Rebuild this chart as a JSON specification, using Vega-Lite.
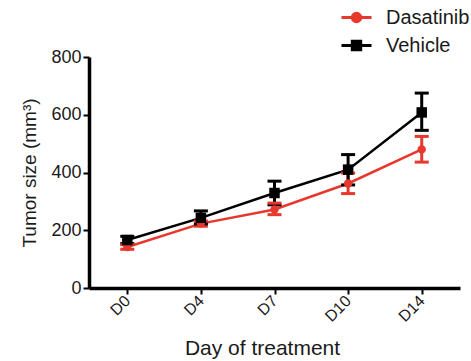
{
  "$schema": "https://vega.github.io/schema/vega-lite/v6.json",
  "autosize": "none",
  "width": 371,
  "height": 231,
  "padding": {"left": 89, "top": 57, "right": 11, "bottom": 73},
  "background": "white",
  "config": {
    "view": {"stroke": null},
    "font": "Liberation Sans",
    "axis": {
      "grid": false,
      "domainColor": "black",
      "domainWidth": 3,
      "tickColor": "black",
      "tickWidth": 2,
      "tickSize": 6,
      "labelColor": "#1a1a1a",
      "titleColor": "#1a1a1a",
      "titleFontWeight": "normal",
      "labelFont": "Liberation Sans",
      "titleFont": "Liberation Sans"
    }
  },
  "data": {
    "values": [
      {"day": "D0", "group": "Dasatinib", "mean": 142, "lo": 134, "hi": 150},
      {"day": "D4", "group": "Dasatinib", "mean": 223, "lo": 214, "hi": 232},
      {"day": "D7", "group": "Dasatinib", "mean": 272, "lo": 254, "hi": 294},
      {"day": "D10", "group": "Dasatinib", "mean": 362, "lo": 327, "hi": 398},
      {"day": "D14", "group": "Dasatinib", "mean": 480, "lo": 436, "hi": 525},
      {"day": "D0", "group": "Vehicle", "mean": 166, "lo": 154, "hi": 179},
      {"day": "D4", "group": "Vehicle", "mean": 243, "lo": 222, "hi": 267},
      {"day": "D7", "group": "Vehicle", "mean": 329, "lo": 288, "hi": 370},
      {"day": "D10", "group": "Vehicle", "mean": 410, "lo": 357, "hi": 462},
      {"day": "D14", "group": "Vehicle", "mean": 608, "lo": 546, "hi": 675}
    ]
  },
  "encoding": {
    "x": {
      "field": "day",
      "type": "ordinal",
      "sort": ["D0", "D4", "D7", "D10", "D14"],
      "scale": {"type": "point", "padding": 0.52},
      "axis": {
        "title": "Day of treatment",
        "titleFontSize": 21,
        "titlePadding": 13,
        "titleX": 173,
        "labelAngle": -45,
        "labelAlign": "right",
        "labelBaseline": "middle",
        "labelFontSize": 16,
        "labelPadding": 4,
        "domainWidth": 3.5,
        "domainColor": "black",
        "tickWidth": 2
      }
    },
    "color": {
      "field": "group",
      "type": "nominal",
      "scale": {"domain": ["Dasatinib", "Vehicle"], "range": ["#e8382e", "#000000"]},
      "legend": {
        "title": null,
        "orient": "none",
        "legendX": 254,
        "legendY": -53,
        "padding": 0,
        "symbolSize": 576,
        "symbolStrokeWidth": 3,
        "labelFontSize": 20,
        "labelColor": "#1a1a1a",
        "labelOffset": 16,
        "rowPadding": 4,
        "symbolOpacity": 1,
        "encode": {
          "symbols": {
            "update": {
              "shape": {"signal": "datum.value === 'Dasatinib' ? 'M-1.25,0H1.25M0.35,0A0.35,0.35,0,1,1,-0.35,0A0.35,0.35,0,1,1,0.35,0Z' : 'M-1.25,0H1.25M-0.35,-0.35H0.35V0.35H-0.35Z'"},
              "fill": {"signal": "datum.value === 'Dasatinib' ? '#e8382e' : '#000000'"},
              "stroke": {"signal": "datum.value === 'Dasatinib' ? '#e8382e' : '#000000'"},
              "strokeWidth": {"value": 3},
              "opacity": {"value": 1}
            }
          }
        }
      }
    }
  },
  "layer": [
    {
      "mark": {"type": "line", "strokeWidth": 2.5},
      "encoding": {
        "y": {
          "field": "mean",
          "type": "quantitative",
          "scale": {"domain": [0, 800], "nice": false},
          "axis": {
            "title": "Tumor size (mm³)",
            "titleFontSize": 19,
            "titlePadding": 11,
            "labelFontSize": 18,
            "labelPadding": 2,
            "values": [0, 200, 400, 600, 800],
            "domainWidth": 3.5,
            "domainColor": "black",
            "tickWidth": 2
          }
        }
      }
    },
    {
      "mark": {"type": "rule", "strokeWidth": 3, "opacity": 1},
      "encoding": {
        "y": {"field": "lo", "type": "quantitative"},
        "y2": {"field": "hi"}
      }
    },
    {
      "mark": {"type": "tick", "thickness": 3, "size": 14, "opacity": 1},
      "encoding": {
        "y": {"field": "lo", "type": "quantitative"}
      }
    },
    {
      "mark": {"type": "tick", "thickness": 3, "size": 14, "opacity": 1},
      "encoding": {
        "y": {"field": "hi", "type": "quantitative"}
      }
    },
    {
      "transform": [{"filter": "datum.group === 'Dasatinib'"}],
      "mark": {"type": "point", "shape": "circle", "filled": true, "opacity": 1, "size": 70},
      "encoding": {
        "y": {"field": "mean", "type": "quantitative"}
      }
    },
    {
      "transform": [{"filter": "datum.group === 'Vehicle'"}],
      "mark": {"type": "point", "shape": "square", "filled": true, "opacity": 1, "size": 110},
      "encoding": {
        "y": {"field": "mean", "type": "quantitative"}
      }
    }
  ]
}
